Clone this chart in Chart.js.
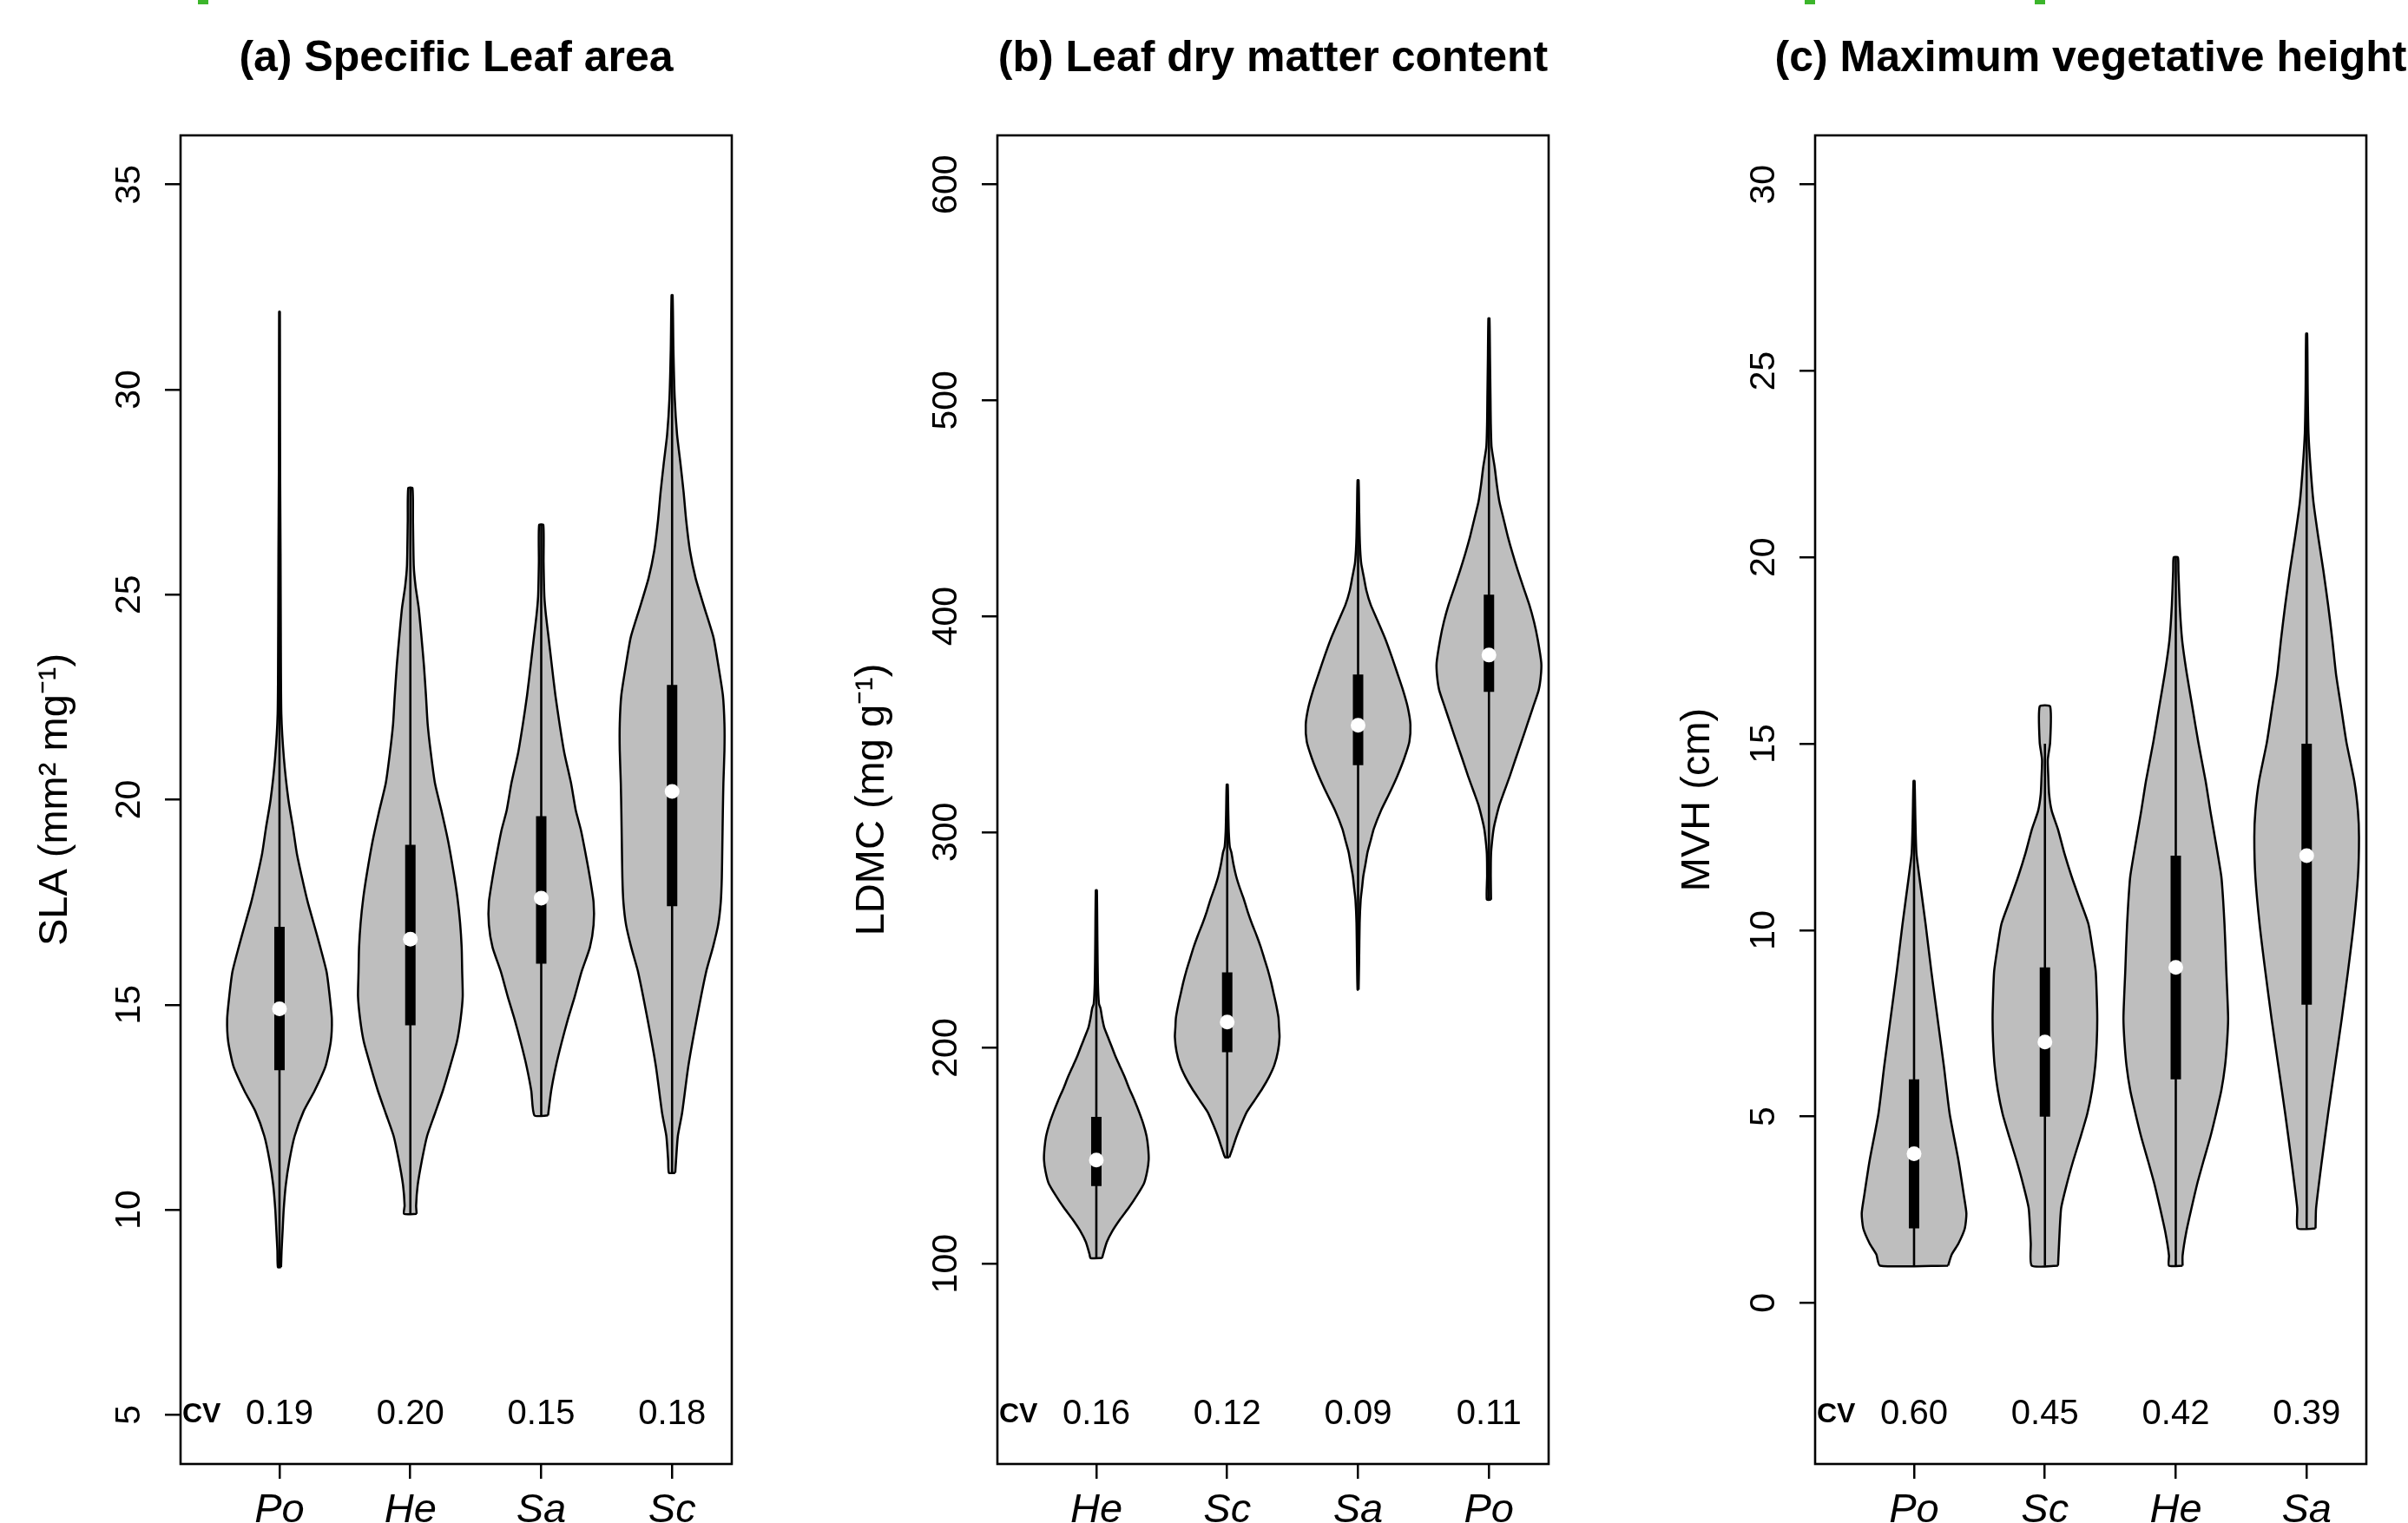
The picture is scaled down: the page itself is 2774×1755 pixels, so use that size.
<!DOCTYPE html>
<html>
<head>
<meta charset="utf-8">
<title>Violin plots - SLA, LDMC, MVH</title>
<script src="https://cdn.jsdelivr.net/npm/chart.js@4.4.1/dist/chart.umd.min.js"></script>
<style>
  html, body { margin: 0; padding: 0; background: #fff; overflow: hidden; }
  #page { position: relative; width: 2774px; height: 1755px; overflow: hidden; background: #fff; }
  #page canvas { position: absolute; top: 0; }
  .mark { position: absolute; top: 0; height: 5px; background: #3cb52b; }
</style>
</head>
<body>
<div id="page">
  <div class="mark" style="left:228px;width:12px"></div>
  <div class="mark" style="left:2079px;width:12px"></div>
  <div class="mark" style="left:2344px;width:12px"></div>
  <canvas id="chartA" width="900" height="1755" style="left:0px"></canvas>
  <canvas id="chartB" width="900" height="1755" style="left:941px"></canvas>
  <canvas id="chartC" width="891" height="1755" style="left:1883px"></canvas>
</div>
<script>
// ---- (a) Specific leaf area ----
const slaSpecies = ['Po', 'He', 'Sa', 'Sc'];
const slaCV = ['0.19', '0.20', '0.15', '0.18'];
const slaTicks = [5, 10, 15, 20, 25, 30, 35];
const slaLow = [8.6, 9.9, 12.3, 10.9];
const slaQ1 = [13.4, 14.5, 16.0, 17.4];
const slaMedian = [14.9, 16.6, 17.6, 20.2];
const slaQ3 = [16.9, 18.9, 19.6, 22.8];
const slaHigh = [31.9, 27.6, 26.7, 32.3];
// density profiles: [value, relative width], bottom to top
const slaPoDensity = [[8.6,0.03],[9.0,0.04],[9.5,0.06],[10.0,0.08],[10.6,0.12],[11.2,0.19],[11.8,0.29],[12.4,0.46],[12.9,0.67],[13.5,0.88],[14.1,0.98],[14.65,1.0],[15.2,0.96],[15.8,0.9],[16.4,0.78],[17.0,0.65],[17.5,0.54],[18.1,0.43],[18.7,0.33],[19.3,0.26],[20.0,0.17],[21.0,0.085],[22.1,0.035],[24.0,0.025],[26.0,0.02],[28.0,0.012],[30.0,0.008],[31.9,0.005]];
const slaHeDensity = [[9.9,0.12],[10.1,0.11],[10.6,0.14],[11.2,0.22],[11.8,0.32],[12.35,0.47],[12.9,0.62],[13.5,0.76],[14.1,0.89],[14.65,0.96],[15.2,1.0],[15.8,0.99],[16.4,0.98],[17.0,0.95],[17.6,0.9],[18.2,0.83],[19.0,0.72],[19.7,0.6],[20.4,0.47],[21.15,0.39],[21.85,0.33],[22.5,0.3],[23.26,0.26],[24.0,0.21],[24.67,0.16],[25.2,0.1],[25.7,0.065],[26.8,0.05],[27.6,0.04]];
const slaSaDensity = [[12.3,0.13],[12.9,0.19],[13.5,0.28],[14.08,0.39],[14.65,0.51],[15.2,0.64],[15.8,0.77],[16.4,0.93],[16.95,1.0],[17.5,1.0],[18.1,0.93],[18.6,0.86],[19.25,0.76],[19.74,0.66],[20.4,0.57],[21.15,0.44],[21.85,0.35],[22.55,0.27],[23.3,0.2],[23.96,0.14],[24.5,0.09],[24.95,0.06],[25.8,0.045],[26.7,0.04]];
const slaScDensity = [[10.9,0.06],[11.2,0.075],[11.8,0.11],[12.35,0.19],[13.5,0.31],[14.65,0.47],[15.8,0.65],[16.4,0.78],[16.95,0.88],[17.5,0.93],[18.1,0.95],[18.9,0.96],[19.74,0.97],[20.4,0.98],[21.2,1.0],[21.85,1.0],[22.55,0.97],[23.3,0.88],[23.96,0.79],[24.67,0.62],[25.4,0.45],[26.08,0.34],[26.8,0.27],[27.5,0.22],[28.2,0.16],[28.9,0.095],[29.8,0.05],[31.0,0.025],[32.3,0.01]];

// ---- (b) Leaf dry matter content ----
const ldmcSpecies = ['He', 'Sc', 'Sa', 'Po'];
const ldmcCV = ['0.16', '0.12', '0.09', '0.11'];
const ldmcTicks = [100, 200, 300, 400, 500, 600];
const ldmcLow = [102.6, 149.3, 227, 268.7];
const ldmcQ1 = [136, 198, 331, 365];
const ldmcMedian = [148, 212, 349.5, 382];
const ldmcQ3 = [168, 235, 373, 410];
const ldmcHigh = [273, 322, 463, 538];
const ldmcHeDensity = [[102.6,0.11],[104.4,0.13],[110,0.2],[115.3,0.31],[120.8,0.46],[126.3,0.63],[131.8,0.78],[137.2,0.91],[142.7,0.97],[148.2,1.0],[153.6,0.99],[159.1,0.96],[164.6,0.9],[170.1,0.82],[175.6,0.73],[181.1,0.63],[186.6,0.54],[192,0.44],[196.4,0.36],[200.8,0.29],[205.1,0.22],[209.5,0.15],[214,0.11],[218.3,0.08],[220.5,0.05],[230,0.03],[250,0.02],[273,0.01]];
const ldmcScDensity = [[149.3,0.04],[152.6,0.09],[159.1,0.18],[164.6,0.27],[170.1,0.37],[175.6,0.52],[181.1,0.67],[186.6,0.8],[192,0.9],[198.5,0.97],[205.1,1.0],[209.5,0.99],[213.9,0.98],[219.4,0.94],[224.9,0.89],[230.3,0.84],[235.8,0.78],[241.3,0.71],[246.8,0.64],[252.2,0.56],[257.7,0.47],[263.2,0.39],[268.7,0.32],[274.1,0.24],[279.6,0.17],[285,0.12],[290.6,0.08],[293,0.05],[300,0.03],[310,0.02],[322,0.01]];
const ldmcSaDensity = [[227,0.01],[240,0.02],[257.7,0.03],[268.7,0.05],[274,0.075],[279.6,0.1],[285,0.14],[290.6,0.18],[296,0.24],[301.5,0.3],[310.1,0.44],[318,0.6],[326,0.75],[334,0.88],[341.8,0.98],[349.8,1.0],[357.7,0.95],[365.6,0.86],[373.6,0.75],[381.5,0.64],[389.5,0.52],[397.5,0.38],[405.4,0.24],[411.8,0.16],[418.1,0.11],[424.5,0.06],[430.8,0.04],[437.2,0.03],[450,0.02],[463,0.01]];
const ldmcPoDensity = [[268.7,0.04],[279.6,0.035],[290,0.04],[295.7,0.06],[301.5,0.09],[306,0.13],[312.5,0.2],[318,0.28],[326,0.4],[334,0.51],[341.8,0.62],[349.7,0.73],[357.7,0.84],[365.7,0.95],[372,0.99],[378.4,1.0],[389.5,0.93],[397.5,0.86],[405.4,0.77],[413.3,0.66],[421.3,0.55],[429.2,0.45],[437,0.36],[445,0.28],[453,0.2],[461,0.15],[469,0.11],[478.5,0.05],[490,0.035],[500.8,0.03],[520,0.02],[538,0.01]];

// ---- (c) Maximum vegetative height ----
const mvhSpecies = ['Po', 'Sc', 'He', 'Sa'];
const mvhCV = ['0.60', '0.45', '0.42', '0.39'];
const mvhTicks = [0, 5, 10, 15, 20, 25, 30];
const mvhLow = [1, 1, 1, 2];
const mvhQ1 = [2, 5, 6, 8];
const mvhMedian = [4, 7, 9, 12];
const mvhQ3 = [6, 9, 12, 15];
const mvhHigh = [14, 15, 20, 26];
const mvhPoDensity = [[1.0,0.65],[1.3,0.72],[1.6,0.85],[2.0,0.97],[2.4,1.0],[2.9,0.95],[3.81,0.85],[5.08,0.68],[6.35,0.57],[7.62,0.45],[8.9,0.33],[10.17,0.22],[11.44,0.1],[12.07,0.045],[13.0,0.025],[14.0,0.01]];
const mvhScDensity = [[1.0,0.25],[1.6,0.27],[2.54,0.31],[3.2,0.42],[3.81,0.54],[4.45,0.68],[5.08,0.81],[5.7,0.9],[6.35,0.96],[7.0,0.99],[7.62,1.0],[8.25,0.99],[8.9,0.97],[9.5,0.91],[10.17,0.83],[10.8,0.67],[11.44,0.51],[12.07,0.37],[12.7,0.25],[13.2,0.13],[13.65,0.08],[14.1,0.065],[14.57,0.055],[15.04,0.1],[16.0,0.1]];
const mvhHeDensity = [[1.0,0.13],[1.27,0.13],[1.9,0.2],[2.54,0.3],[3.2,0.41],[3.81,0.53],[4.45,0.66],[5.08,0.77],[5.7,0.87],[6.35,0.94],[7.0,0.98],[7.62,1.0],[8.25,0.985],[8.9,0.965],[9.5,0.95],[10.17,0.93],[10.8,0.905],[11.44,0.87],[12.3,0.77],[13.2,0.66],[14.0,0.57],[15.04,0.43],[15.96,0.32],[16.88,0.21],[17.8,0.12],[18.72,0.075],[19.64,0.05],[20.0,0.04]];
const mvhSaDensity = [[2.0,0.17],[2.54,0.18],[3.81,0.29],[5.08,0.41],[6.35,0.54],[7.62,0.67],[8.9,0.79],[10.17,0.9],[11.44,0.98],[12.5,1.0],[13.19,0.98],[14.0,0.91],[15.04,0.76],[15.96,0.66],[16.88,0.56],[17.8,0.49],[18.72,0.41],[19.64,0.32],[20.56,0.22],[21.48,0.13],[22.4,0.075],[23.33,0.035],[24.5,0.02],[26.0,0.01]];

// ---- shared look ----
const FONT = "'Liberation Sans', Arial, Helvetica, sans-serif";
const HALF_WIDTH = 0.4;          // widest point of every violin, in x units
const X_MIN = 0.244, X_MAX = 4.456;
const GREY = '#bebebe';
const INK = '#000';

Chart.defaults.font.family = FONT;
Chart.defaults.color = '#000';

// panel title, box around the plot area and the CV row
const panelDecor = {
  id: 'panelDecor',
  afterDatasetsDraw(chart, args, opts) {
    const { ctx, chartArea: a, scales: { x, y } } = chart;
    ctx.save();
    ctx.strokeStyle = INK;
    ctx.lineWidth = 2.6;
    ctx.strokeRect(a.left, a.top, a.right - a.left, a.bottom - a.top);

    ctx.fillStyle = '#000';
    ctx.textBaseline = 'middle';
    ctx.textAlign = 'center';
    ctx.font = 'bold 50px ' + FONT;
    ctx.fillText(opts.title, (a.left + a.right) / 2, 68);

    const yy = y.getPixelForValue(opts.cvLevel);
    ctx.textAlign = 'left';
    ctx.font = 'bold 32px ' + FONT;
    ctx.fillText('CV', a.left + 2, yy);
    ctx.textAlign = 'center';
    ctx.font = '40px ' + FONT;
    opts.cv.forEach((v, i) => ctx.fillText(v, x.getPixelForValue(i + 1), yy));
    ctx.restore();
  }
};

// padding so that rotated y labels sit centred 'gap' px left of the axis
function labelPadding(ticks, size, gap, tickLen) {
  const ctx = document.createElement('canvas').getContext('2d');
  ctx.font = size + 'px ' + FONT;
  const widest = Math.max(...ticks.map(t => ctx.measureText(String(t)).width));
  return gap - tickLen - widest / 2;
}

function violinDatasets(p) {
  const sets = [];
  p.species.forEach((sp, i) => {
    const c = i + 1;
    const d = p.densities[i];
    const right = d.map(([v, w]) => ({ x: c + w * HALF_WIDTH, y: v }));
    const left = d.slice().reverse().map(([v, w]) => ({ x: c - w * HALF_WIDTH, y: v }));
    sets.push({
      label: sp, data: right.concat(left, [right[0]]),
      fill: 'shape', backgroundColor: GREY, borderColor: INK, borderWidth: 2.5,
      pointRadius: 0, pointHitRadius: 0, tension: 0.2, borderJoinStyle: 'round', order: 4
    });
    sets.push({
      data: [{ x: c, y: p.low[i] }, { x: c, y: p.high[i] }],
      borderColor: INK, borderWidth: 2.6, pointRadius: 0, fill: false, order: 3
    });
    sets.push({
      data: [{ x: c, y: p.q1[i] }, { x: c, y: p.q3[i] }],
      borderColor: '#000', borderWidth: 12, borderCapStyle: 'butt', pointRadius: 0, fill: false, order: 2
    });
    sets.push({
      data: [{ x: c, y: p.median[i] }],
      showLine: false, pointRadius: 8.5, pointBackgroundColor: '#fff', pointBorderWidth: 0, order: 1
    });
  });
  return sets;
}

function makePanel(id, p) {
  const tickPad = labelPadding(p.yTicks, 41, 58.5, 18);
  return new Chart(document.getElementById(id), {
    type: 'line',
    data: { datasets: violinDatasets(p) },
    options: {
      responsive: false,
      animation: false,
      events: [],
      layout: { padding: { top: 156, right: p.padRight } },
      plugins: {
        legend: { display: false },
        tooltip: { enabled: false },
        title: { display: false },
        panelDecor: { title: p.title, cv: p.cv, cvLevel: p.cvLevel }
      },
      scales: {
        x: {
          type: 'linear', min: X_MIN, max: X_MAX, bounds: 'data',
          afterBuildTicks: s => { s.ticks = p.species.map((_, i) => ({ value: i + 1 })); },
          afterFit: s => { s.height = 68; },
          grid: { drawOnChartArea: false, drawTicks: true, tickLength: 17, color: INK, lineWidth: 2.5 },
          border: { display: false },
          ticks: {
            autoSkip: false, minRotation: 0, maxRotation: 0, padding: 9, color: '#000',
            font: { size: 47, style: 'italic' },
            callback: v => p.species[v - 1]
          }
        },
        y: {
          type: 'linear', min: p.yMin, max: p.yMax, bounds: 'data',
          afterBuildTicks: s => { s.ticks = p.yTicks.map(v => ({ value: v })); },
          afterFit: s => { s.width = 208; },
          grid: { drawOnChartArea: false, drawTicks: true, tickLength: 18, color: INK, lineWidth: 2.5 },
          border: { display: false },
          ticks: {
            autoSkip: false, minRotation: 90, maxRotation: 90, crossAlign: 'center',
            padding: tickPad, color: '#000', font: { size: 41 }
          },
          title: {
            display: true, text: p.yTitle, color: '#000',
            font: { size: 47 }, padding: { top: p.yTitlePad, bottom: 0 }
          }
        }
      }
    },
    plugins: [panelDecor]
  });
}

makePanel('chartA', {
  title: '(a) Specific Leaf area', yTitle: 'SLA (mm² mg⁻¹)', yTitlePad: 36, padRight: 57,
  species: slaSpecies, cv: slaCV, cvLevel: 5, yTicks: slaTicks, yMin: 3.8, yMax: 36.2,
  densities: [slaPoDensity, slaHeDensity, slaSaDensity, slaScDensity],
  low: slaLow, q1: slaQ1, median: slaMedian, q3: slaQ3, high: slaHigh
});

makePanel('chartB', {
  title: '(b) Leaf dry matter content', yTitle: 'LDMC (mg g⁻¹)', yTitlePad: 36, padRight: 57,
  species: ldmcSpecies, cv: ldmcCV, cvLevel: 30, yTicks: ldmcTicks, yMin: 7.2, yMax: 622.8,
  densities: [ldmcHeDensity, ldmcScDensity, ldmcSaDensity, ldmcPoDensity],
  low: ldmcLow, q1: ldmcQ1, median: ldmcMedian, q3: ldmcQ3, high: ldmcHigh
});

makePanel('chartC', {
  title: '(c) Maximum vegetative height', yTitle: 'MVH (cm)', yTitlePad: 45, padRight: 48,
  species: mvhSpecies, cv: mvhCV, cvLevel: -3, yTicks: mvhTicks, yMin: -4.32, yMax: 31.32,
  densities: [mvhPoDensity, mvhScDensity, mvhHeDensity, mvhSaDensity],
  low: mvhLow, q1: mvhQ1, median: mvhMedian, q3: mvhQ3, high: mvhHigh
});
</script>
</body>
</html>
